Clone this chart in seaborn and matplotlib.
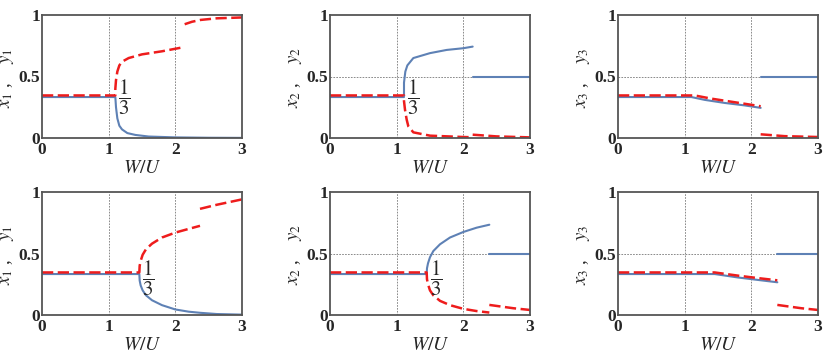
import matplotlib
matplotlib.use("Agg")
import matplotlib.pyplot as plt
import seaborn as sns

# ---- data (W/U on x, occupation on y) ----
# top row, transition near W/U = 1.1
t1_blue_w = [0, 1.10, 1.11, 1.13, 1.16, 1.2, 1.28, 1.4, 1.6, 2.0, 2.5, 3.0]
t1_blue = [0.333, 0.333, 0.25, 0.16, 0.10, 0.07, 0.04, 0.025, 0.012, 0.005, 0.002, 0.001]
t1_red_w = [0, 1.10, 1.10, 1.11, 1.13, 1.16, 1.2, 1.3, 1.5, 1.8, 2.14]
t1_red = [0.346, 0.346, 0.40, 0.47, 0.54, 0.59, 0.62, 0.65, 0.68, 0.705, 0.74]
t1_red2_w = [2.14, 2.25, 2.38, 2.62, 3.0]
t1_red2 = [0.925, 0.945, 0.96, 0.973, 0.98]

t2_blue_w = [0, 1.11, 1.11, 1.13, 1.16, 1.25, 1.5, 1.75, 2.0, 2.14]
t2_blue = [0.333, 0.333, 0.45, 0.54, 0.59, 0.65, 0.69, 0.716, 0.73, 0.743]
t2_blue2_w = [2.14, 3.0]
t2_blue2 = [0.5, 0.5]
t2_red_w = [0, 1.11, 1.11, 1.125, 1.15, 1.175, 1.25, 1.5, 2.0, 2.14]
t2_red = [0.346, 0.346, 0.30, 0.23, 0.15, 0.095, 0.046, 0.019, 0.008, 0.006]
t2_red2_w = [2.14, 2.5, 3.0]
t2_red2 = [0.027, 0.013, 0.005]

t3_blue_w = [0, 1.1, 1.3, 1.6, 1.9, 2.14]
t3_blue = [0.333, 0.333, 0.31, 0.285, 0.265, 0.245]
t3_blue2_w = [2.14, 3.0]
t3_blue2 = [0.5, 0.5]
t3_red_w = [0, 1.15, 1.4, 1.7, 2.0, 2.14]
t3_red = [0.346, 0.346, 0.32, 0.295, 0.27, 0.258]
t3_red2_w = [2.14, 2.5, 3.0]
t3_red2 = [0.03, 0.015, 0.008]

# bottom row, transition near W/U = 1.45
b1_blue_w = [0, 1.46, 1.465, 1.48, 1.51, 1.56, 1.65, 1.8, 2.0, 2.2, 2.37, 2.62, 3.0]
b1_blue = [0.333, 0.333, 0.28, 0.24, 0.20, 0.16, 0.12, 0.08, 0.045, 0.027, 0.018, 0.008, 0.003]
b1_red_w = [0, 1.46, 1.465, 1.48, 1.51, 1.56, 1.65, 1.8, 2.0, 2.2, 2.37]
b1_red = [0.346, 0.346, 0.40, 0.44, 0.49, 0.535, 0.58, 0.63, 0.67, 0.70, 0.725]
b1_red2_w = [2.37, 2.62, 3.0]
b1_red2 = [0.863, 0.896, 0.94]

b2_blue_w = [0, 1.45, 1.455, 1.47, 1.5, 1.55, 1.65, 1.8, 2.0, 2.2, 2.39]
b2_blue = [0.333, 0.333, 0.38, 0.42, 0.47, 0.52, 0.575, 0.63, 0.675, 0.71, 0.734]
b2_blue2_w = [2.39, 3.0]
b2_blue2 = [0.5, 0.5]
b2_red_w = [0, 1.45, 1.455, 1.47, 1.5, 1.55, 1.65, 1.8, 2.0, 2.2, 2.39]
b2_red = [0.346, 0.346, 0.29, 0.25, 0.20, 0.16, 0.115, 0.08, 0.05, 0.032, 0.02]
b2_red2_w = [2.39, 2.75, 3.0]
b2_red2 = [0.082, 0.055, 0.041]

b3_blue_w = [0, 1.45, 1.8, 2.1, 2.39]
b3_blue = [0.333, 0.333, 0.305, 0.285, 0.266]
b3_blue2_w = [2.39, 3.0]
b3_blue2 = [0.5, 0.5]
b3_red_w = [0, 1.45, 1.8, 2.1, 2.39]
b3_red = [0.346, 0.346, 0.32, 0.30, 0.282]
b3_red2_w = [2.39, 2.75, 3.0]
b3_red2 = [0.082, 0.055, 0.041]

x_ticks = [0, 1, 2, 3]
y_ticks = [0, 0.5, 1]
y_ticklabels = ["0", "0.5", "1"]

BLUE = "#5e81b5"
RED = "#ee1c1c"

sns.set_style("white")
plt.rcParams['font.family'] = ['Liberation Serif', 'DejaVu Serif']
plt.rcParams['mathtext.fontset'] = 'stix'

panels = [
    # (row, col, blue segments, red segments, index, frac position, hline)
    (0, 0, [(t1_blue_w, t1_blue)], [(t1_red_w, t1_red), (t1_red2_w, t1_red2)], 1, (1.14, 0.333), False),
    (0, 1, [(t2_blue_w, t2_blue), (t2_blue2_w, t2_blue2)], [(t2_red_w, t2_red), (t2_red2_w, t2_red2)], 2, (1.15, 0.333), True),
    (0, 2, [(t3_blue_w, t3_blue), (t3_blue2_w, t3_blue2)], [(t3_red_w, t3_red), (t3_red2_w, t3_red2)], 3, None, True),
    (1, 0, [(b1_blue_w, b1_blue)], [(b1_red_w, b1_red), (b1_red2_w, b1_red2)], 1, (1.5, 0.30), False),
    (1, 1, [(b2_blue_w, b2_blue), (b2_blue2_w, b2_blue2)], [(b2_red_w, b2_red), (b2_red2_w, b2_red2)], 2, (1.5, 0.30), True),
    (1, 2, [(b3_blue_w, b3_blue), (b3_blue2_w, b3_blue2)], [(b3_red_w, b3_red), (b3_red2_w, b3_red2)], 3, None, True),
]

fig = plt.figure(figsize=(8.3, 3.62), dpi=100)
lefts = [42 / 830, 330 / 830, 618 / 830]
bottoms = [1 - 138 / 362, 1 - 315 / 362]
w, h = 200 / 830, 123 / 362

for row, col, blues, reds, idx, frac, hline in panels:
    ax = fig.add_axes([lefts[col], bottoms[row], w, h])
    # dotted reference lines
    for xv in [1, 2]:
        ax.axvline(xv, color="#777777", lw=0.6, ls=(0, (2, 1.5)), zorder=0)
    if hline:
        ax.axhline(0.5, color="#777777", lw=0.6, ls=(0, (2, 1.5)), zorder=0)

    for xs, ys in blues:
        sns.lineplot(x=xs, y=ys, ax=ax, color=BLUE, lw=1.5, sort=False, estimator=None)
    for xs, ys in reds:
        sns.lineplot(x=xs, y=ys, ax=ax, color=RED, lw=1.8, sort=False, estimator=None,
                     dashes=False, linestyle=(0, (4.5, 1.8)))

    if frac is not None:
        ax.text(frac[0], frac[1], r"$\dfrac{1}{3}$", fontsize=15, ha="left", va="center")

    ax.set_xlim(0, 3)
    ax.set_ylim(0, 1)
    ax.set_xticks(x_ticks)
    ax.set_xticklabels([str(t) for t in x_ticks])
    ax.set_yticks(y_ticks)
    ax.set_yticklabels(y_ticklabels)
    ax.tick_params(axis="both", direction="in", length=2.5, width=0.7, labelsize=12.5,
                   color="#555555")
    ax.tick_params(axis="y", pad=1.5)
    ax.tick_params(axis="x", pad=3)
    for lab in ax.get_xticklabels() + ax.get_yticklabels():
        lab.set_fontweight("bold")
    for s in ax.spines.values():
        s.set_color("#555555")
        s.set_linewidth(1.3)
    ax.set_xlabel("$W/U$", fontsize=14, labelpad=1)
    ax.set_ylabel(f"$x_{idx}$ ,    $y_{idx}$", fontsize=13.5)
    ax.yaxis.set_label_coords(-0.13, 0.49)

plt.savefig("out.png", dpi=100, facecolor="white")
